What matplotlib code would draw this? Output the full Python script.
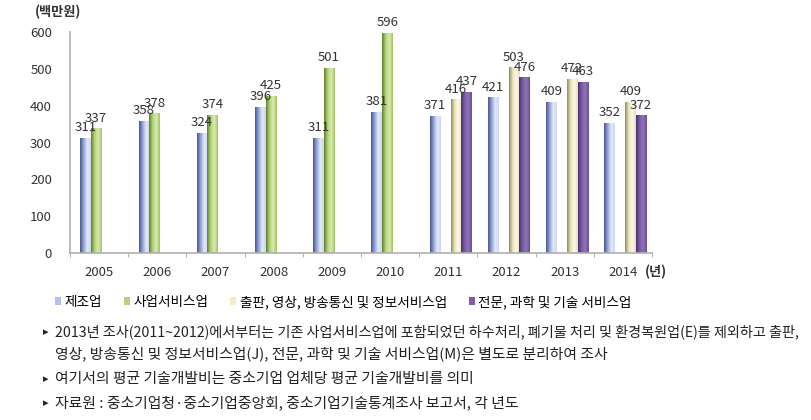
import numpy as np
import matplotlib
matplotlib.use("Agg")
import matplotlib.pyplot as plt
from matplotlib.colors import LinearSegmentedColormap
from matplotlib.patches import Patch

plt.rcParams['font.family'] = ['Noto Sans CJK KR', 'DejaVu Sans']

years = ["2005", "2006", "2007", "2008", "2009", "2010", "2011", "2012", "2013", "2014"]
series_names = ["제조업", "사업서비스업", "출판, 영상, 방송통신 및 정보서비스업", "전문, 과학 및 기술 서비스업"]
manufacturing = [311, 358, 324, 396, 311, 381, 371, 421, 409, 352]
business_svc = [337, 378, 374, 425, 501, 596, None, None, None, None]
publishing = [None, None, None, None, None, None, 416, 503, 472, 409]
professional = [None, None, None, None, None, None, 437, 476, 463, 372]
yticks = [0, 100, 200, 300, 400, 500, 600]

notes = [
    "2013년 조사(2011~2012)에서부터는 기존 사업서비스업에 포함되었던 하수처리, 폐기물 처리 및 환경복원업(E)를 제외하고 출판,",
    "영상, 방송통신 및 정보서비스업(J), 전문, 과학 및 기술 서비스업(M)은 별도로 분리하여 조사",
    "여기서의 평균 기술개발비는 중소기업 업체당 평균 기술개발비를 의미",
    "자료원 : 중소기업청·중소기업중앙회, 중소기업기술통계조사 보고서, 각 년도",
]

# gradient colours (left dark edge -> light middle -> right)
grads = [
    ['#4a5890', '#95a5d6', '#e2e9fb', '#cdd7f2'],
    ['#62822f', '#b2d277', '#d8ecae', '#a6c469'],
    ['#948c64', '#ece2b8', '#fdf9e8', '#e9dfb6'],
    ['#4a3174', '#7a5ca6', '#8f74b8', '#6a4e97'],
]
legend_cols = ['#b4c1e8', '#b5d27a', '#f3ecc6', '#7b5ea7']

W, H = 812, 420
fig = plt.figure(figsize=(W / 100, H / 100), dpi=100)
ax = fig.add_axes([70 / W, 1 - 253 / H, (652 - 70) / W, (253 - 32) / H])

x = np.arange(len(years))
bw = 0.18
data = [manufacturing, business_svc, publishing, professional]
offsets = [-1.5, -0.5, 0.5, 1.5]

for k, vals in enumerate(data):
    cmap = LinearSegmentedColormap.from_list(f"g{k}", grads[k])
    xs = [xi + offsets[k] * bw + 0.04 for xi, v in zip(x, vals) if v is not None]
    hs = [v for v in vals if v is not None]
    bars = ax.bar(xs, hs, width=bw, color='none', edgecolor='none', zorder=2)
    for rect, v in zip(bars, hs):
        x0, w = rect.get_x(), rect.get_width()
        ax.imshow(np.linspace(0, 1, 32).reshape(1, -1), cmap=cmap, aspect='auto',
                  extent=(x0, x0 + w, 0, rect.get_height()), zorder=2)
        ax.annotate(str(v), (x0 + w / 2, rect.get_height()), xytext=(0, 3),
                    textcoords='offset points', ha='center', va='bottom',
                    fontsize=9.5, color='#333333', zorder=3)

ax.set_xlim(-0.5, len(years) - 0.5)
ax.set_ylim(0, 600)
ax.set_yticks(yticks)
ax.set_xticks(x)
ax.set_xticklabels(years)
ax.set_xticks(np.arange(-0.5, len(years)), minor=True)
ax.tick_params(axis='x', which='major', length=0, pad=9, labelsize=9.5, labelcolor='#333333')
ax.tick_params(axis='x', which='minor', length=3, color='#a0a0a0')
ax.tick_params(axis='y', length=0, pad=13, labelsize=9.5, labelcolor='#333333')
for s in ['top', 'right']:
    ax.spines[s].set_visible(False)
for s in ['left', 'bottom']:
    ax.spines[s].set_color('#b0b0b0')
    ax.spines[s].set_linewidth(1.2)

fig.text(35 / W, 1 - 12 / H, "(백만원)", fontsize=9.5, fontweight='bold', color='#333333', va='center')
fig.text(645 / W, 1 - 272 / H, "(년)", fontsize=9.5, fontweight='bold', color='#333333', va='center')

handles = [Patch(facecolor=c, edgecolor='none') for c in legend_cols]
fig.legend(handles, series_names, loc='center left', bbox_to_anchor=(55 / W, 1 - 302 / H),
           ncol=4, frameon=False, fontsize=9.8, handlelength=0.45, handleheight=0.45,
           handletextpad=0.25, columnspacing=1.6, borderpad=0, borderaxespad=0)

note_y = [332, 354, 379, 403]
note_size = [10.2, 10.7, 10.7, 10.7]
for i, (t, yy) in enumerate(zip(notes, note_y)):
    if i != 1:
        fig.text(43 / W, 1 - yy / H, "▸", fontsize=8, color='#222222', va='center')
    fig.text(55 / W, 1 - yy / H, t, fontsize=note_size[i], color='#222222', va='center')

fig.savefig("out.png", dpi=100)
